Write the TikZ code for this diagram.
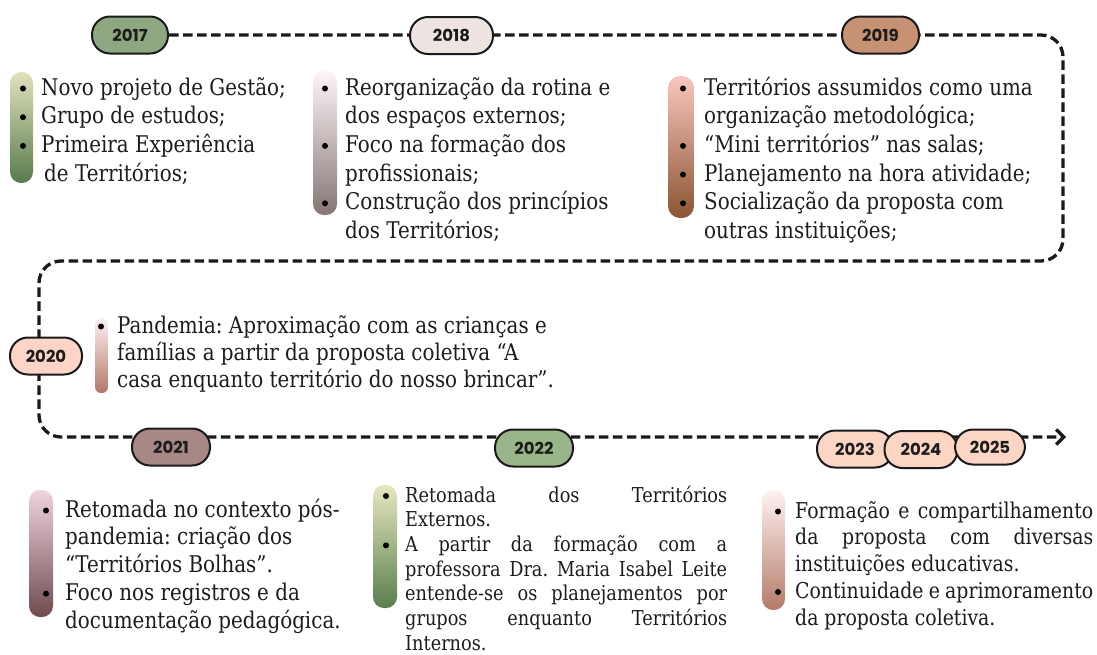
\documentclass[tikz,border=0pt]{standalone}
\usepackage{fontspec}
\setmainfont{DejaVu Serif}[FakeStretch=0.865]
\newfontfamily\yearfont{Poppins}
\usetikzlibrary{arrows.meta,backgrounds}
\definecolor{lineblack}{HTML}{1A1A1A}
\definecolor{textdark}{HTML}{1C1C1C}
\definecolor{p17}{HTML}{8DA881}
\definecolor{p18}{HTML}{EEE5E3}
\definecolor{p19}{HTML}{C79274}
\definecolor{p20}{HTML}{FDD5C6}
\definecolor{p21}{HTML}{A88787}
\definecolor{p22}{HTML}{99B68A}
\definecolor{p23}{HTML}{FDD5C4}
\definecolor{b17t}{HTML}{E2E2BE}\definecolor{b17b}{HTML}{587A4E}
\definecolor{b18t}{HTML}{FFF6F8}\definecolor{b18b}{HTML}{857575}
\definecolor{b19t}{HTML}{F9C6BE}\definecolor{b19b}{HTML}{8B5433}
\definecolor{b20t}{HTML}{FFF0F2}\definecolor{b20b}{HTML}{B07866}
\definecolor{b21t}{HTML}{EFD3DF}\definecolor{b21b}{HTML}{6F4A4E}
\definecolor{b22t}{HTML}{E7E7BE}\definecolor{b22b}{HTML}{587E4E}
\definecolor{b23t}{HTML}{FFF2F2}\definecolor{b23m}{HTML}{F6CFC8}\definecolor{b23b}{HTML}{B47B68}
\frenchspacing
\begin{document}
\begin{tikzpicture}[x=1pt,y=-1pt,
  year/.style={draw=lineblack, line width=2pt, rounded corners=18pt, minimum height=37pt,
    inner sep=0pt, font=\yearfont\bfseries\fontsize{16.5}{16.5}\selectfont, text=textdark},
  txt/.style={anchor=base west, inner sep=0pt, text=textdark, font=\fontsize{23}{28}\selectfont},
  txtsmall/.style={txt, font=\fontsize{20.5}{25}\selectfont},
  txtmid/.style={txt, font=\fontsize{21.8}{27}\selectfont},
  dot/.style={circle, fill=black, inner sep=0pt, minimum size=6pt},
  timeline/.style={line width=3.3pt, dash pattern=on 9.5pt off 4.5pt, draw=lineblack}]
\useasboundingbox (0,0) rectangle (1097,654);

% gradient bars
\shade[top color=b17t, bottom color=b17b, rounded corners=11pt] (10,72) rectangle (33,183);
\shade[top color=b18t, bottom color=b18b, rounded corners=11pt] (313,70) rectangle (337,215);
\shade[top color=b19t, bottom color=b19b, rounded corners=12pt] (668,76) rectangle (694,218);
\shade[top color=b20t, bottom color=b20b, rounded corners=6pt] (95,318) rectangle (108,393);
\shade[top color=b21t, bottom color=b21b, rounded corners=11pt] (29,490) rectangle (53,617);
\shade[top color=b22t, bottom color=b22b, rounded corners=11pt] (373,485) rectangle (397,608);
\shade[top color=b23t, middle color=b23m, bottom color=b23b, rounded corners=11pt] (762,490) rectangle (785,610);

% year pills
\node[year, fill=p17, minimum width=76pt] (y2017) at (130,35) {2017};
\node[year, fill=p18, minimum width=83pt] (y2018) at (451.5,35.5) {2018};
\node[year, fill=p19, minimum width=77pt] (y2019) at (880.5,35) {2019};
\node[year, fill=p20, minimum width=72pt] (y2020) at (46,356) {2020};
\node[year, fill=p21, minimum width=78pt] (y2021) at (171,447) {2021};
\node[year, fill=p22, minimum width=78pt] (y2022) at (534,448) {2022};
\node[year, fill=p23, minimum width=76pt] (y2023) at (855,449) {2023};
\node[year, fill=p23, minimum width=73pt] (y2024) at (921,449.5) {2024};
\node[year, fill=p23, minimum width=70pt, minimum height=35pt] (y2025) at (990,447) {2025};

% timeline
\coordinate (c1) at (1063,35);
\coordinate (c2) at (1063,261);
\coordinate (c3) at (39,261);
\coordinate (c4) at (39,437);
\coordinate (tip) at (1066,437);
\begin{scope}[on background layer]
\draw[timeline, rounded corners=22pt, -{Straight Barb[length=7.5pt,width=15pt]}]
  (y2017.east) -- (c1) -- (c2) -- (c3) -- (c4) -- (tip);
\end{scope}

% 2017
\node[dot] (d17a) at (23,88.5) {};
\node[dot] (d17b) at (23,117.2) {};
\node[dot] (d17c) at (23,145.9) {};
\node[txt] (t17a) at (41,95) {Novo projeto de Gestão;};
\node[txt] (t17b) at (41,123.7) {Grupo de estudos;};
\node[txt] (t17c) at (41,152.4) {Primeira Experiência};
\node[txt] (t17d) at (44,181.1) {de Territórios;};

% 2018
\node[dot] (d18a) at (325,88.5) {};
\node[dot] (d18b) at (325,145.9) {};
\node[dot] (d18c) at (325,203.3) {};
\node[txt] (t18a) at (345,95) {Reorganização da rotina e};
\node[txt] (t18b) at (345,123.7) {dos espaços externos;};
\node[txt] (t18c) at (345,152.4) {Foco na formação dos};
\node[txt] (t18d) at (345,181.1) {profissionais;};
\node[txt] (t18e) at (345,209.8) {Construção dos princípios};
\node[txt] (t18f) at (345,238.5) {dos Territórios;};

% 2019
\node[dot] (d19a) at (683,88.5) {};
\node[dot] (d19b) at (683,145.9) {};
\node[dot] (d19c) at (683,174.6) {};
\node[dot] (d19d) at (683,203.3) {};
\node[txt] (t19a) at (704,95) {Territórios assumidos como uma};
\node[txt] (t19b) at (704,123.7) {organização metodológica;};
\node[txt] (t19c) at (704,152.4) {“Mini territórios” nas salas;};
\node[txt] (t19d) at (704,181.1) {Planejamento na hora atividade;};
\node[txt] (t19e) at (704,209.8) {Socialização da proposta com};
\node[txt] (t19f) at (704,238.5) {outras instituições;};

% 2020
\node[dot] (d20a) at (101,326.5) {};
\node[txt] (t20a) at (117,333) {Pandemia: Aproximação com as crianças e};
\node[txt] (t20b) at (117,360) {famílias a partir da proposta coletiva “A};
\node[txt] (t20c) at (117,387) {casa enquanto território do nosso brincar”.};

% 2021
\node[dot] (d21a) at (46,510.5) {};
\node[dot] (d21b) at (46,593.7) {};
\node[txt] (t21a) at (65,517) {Retomada no contexto pós-};
\node[txt] (t21b) at (65,544.7) {pandemia: criação dos};
\node[txt] (t21c) at (65,572.5) {“Territórios Bolhas”.};
\node[txt] (t21d) at (65,600.2) {Foco nos registros e da};
\node[txt] (t21e) at (65,628) {documentação pedagógica.};

% 2022
\node[dot] (d22a) at (386,496) {};
\node[dot] (d22b) at (386,545.4) {};
\node[txtsmall] (t22a) at (405,502) {\makebox[322pt][s]{Retomada dos Territórios}};
\node[txtsmall] (t22b) at (405,526.7) {Externos.};
\node[txtsmall] (t22c) at (405,551.4) {\makebox[322pt][s]{A partir da formação com a}};
\node[txtsmall] (t22d) at (405,576.1) {\makebox[322pt][s]{professora Dra. Maria Isabel Leite}};
\node[txtsmall] (t22e) at (405,600.8) {\makebox[322pt][s]{entende-se os planejamentos por}};
\node[txtsmall] (t22f) at (405,625.5) {\makebox[322pt][s]{grupos enquanto Territórios}};
\node[txtsmall] (t22g) at (405,650.2) {Internos.};

% 2023-2025
\node[dot] (d23a) at (778,511.5) {};
\node[dot] (d23b) at (778,592) {};
\node[txtmid] (t23a) at (795,518) {\makebox[298pt][s]{Formação e compartilhamento}};
\node[txtmid] (t23b) at (795,544.8) {\makebox[298pt][s]{da proposta com diversas}};
\node[txtmid] (t23c) at (795,571.6) {instituições educativas.};
\node[txtmid] (t23d) at (795,598.4) {\makebox[298pt][s]{Continuidade e aprimoramento}};
\node[txtmid] (t23e) at (795,625.2) {da proposta coletiva.};
\end{tikzpicture}
\end{document}
